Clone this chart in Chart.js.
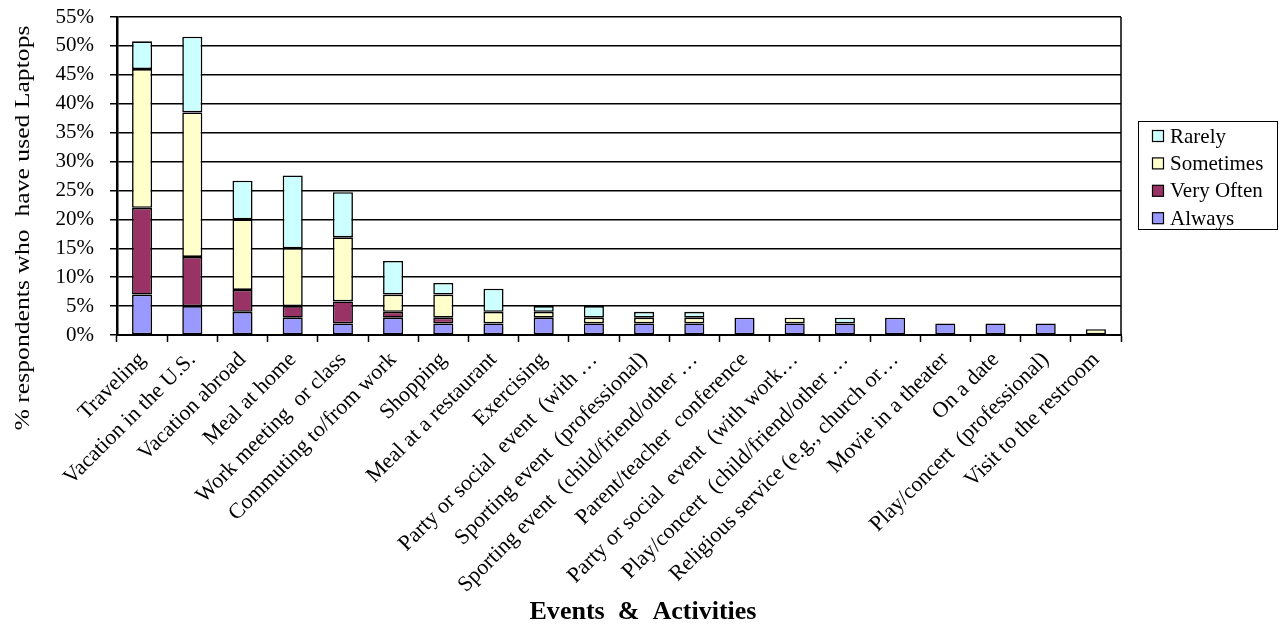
<!DOCTYPE html>
<html>
<head>
<meta charset="utf-8">
<script src="https://cdn.jsdelivr.net/npm/chart.js@4.4.0/dist/chart.umd.min.js"></script>
<style>
  html, body { margin: 0; padding: 0; background: #fff; }
  #wrap { width: 1283px; height: 626px; position: relative; }
</style>
</head>
<body>
<div id="wrap"><canvas id="c" width="1283" height="626"></canvas></div>
<script>
const categories = [
  "Traveling",
  "Vacation in the U.S.",
  "Vacation abroad",
  "Meal at home",
  "Work meeting  or class",
  "Commuting to/from work",
  "Shopping",
  "Meal at a restaurant",
  "Exercising",
  "Party or social  event  (with \u2026",
  "Sporting event  (professional)",
  "Sporting event  (child/friend/other \u2026",
  "Parent/teacher  conference",
  "Party or social  event  (with work\u2026",
  "Play/concert  (child/friend/other \u2026",
  "Religious service (e.g., church or\u2026",
  "Movie in a theater",
  "On a date",
  "Play/concert  (professional)",
  "Visit to the restroom"
];
const always    = [7, 5, 4, 3, 2, 3, 2, 2, 3, 2, 2, 2, 3, 2, 2, 3, 2, 2, 2, 0];
const veryOften = [15, 8.5, 3.8, 2, 3.8, 1, 1, 0, 0, 0, 0, 0, 0, 0, 0, 0, 0, 0, 0, 0];
const sometimes = [24, 25, 12.2, 10, 11.1, 3, 4, 2, 1, 1, 1, 1, 0, 1, 0, 0, 0, 0, 0, 1];
const rarely    = [4.8, 13.1, 6.7, 12.6, 7.8, 5.8, 2, 4, 1, 2, 1, 1, 0, 0, 1, 0, 0, 0, 0, 0];
const yTicks = [0, 5, 10, 15, 20, 25, 30, 35, 40, 45, 50, 55];
const seriesNames = ["Always", "Very Often", "Sometimes", "Rarely"];
const seriesColors = ["#9999FF", "#993366", "#FFFFCC", "#CCFFFF"];
const yTitle = "% respondents who  have used Laptops";
const xTitle = "Events  &  Activities";

const SERIF = "'Liberation Serif', 'Times New Roman', serif";

const decorPlugin = {
  id: 'decor',
  afterDraw(chart) {
    const ctx = chart.ctx;
    const ca = chart.chartArea;
    ctx.save();
    // right frame
    ctx.strokeStyle = '#000';
    ctx.lineWidth = 1.5;
    ctx.beginPath();
    ctx.moveTo(ca.right, ca.top);
    ctx.lineTo(ca.right, ca.bottom);
    ctx.stroke();

    // y title (stretched)
    ctx.fillStyle = '#000';
    ctx.save();
    ctx.translate(23, 228);
    ctx.rotate(-Math.PI / 2);
    ctx.font = '22px ' + SERIF;
    let w = ctx.measureText(yTitle).width;
    ctx.scale(405 / w, 1);
    ctx.textAlign = 'center';
    ctx.textBaseline = 'middle';
    ctx.fillText(yTitle, 0, 0);
    ctx.restore();

    // x title
    ctx.save();
    ctx.translate(643, 613);
    ctx.font = 'bold 25px ' + SERIF;
    w = ctx.measureText(xTitle).width;
    ctx.scale(227 / w, 1);
    ctx.textAlign = 'center';
    ctx.textBaseline = 'middle';
    ctx.fillText(xTitle, 0, 0);
    ctx.restore();

    // legend
    const lx = 1138.5, ly = 121.5, lw = 139, lh = 108;
    ctx.lineWidth = 1;
    ctx.strokeStyle = '#000';
    ctx.strokeRect(lx, ly, lw, lh);
    ctx.font = '21px ' + SERIF;
    ctx.textAlign = 'left';
    ctx.textBaseline = 'middle';
    const order = [3, 2, 1, 0];
    order.forEach((si, k) => {
      const cy = 136 + k * 27.4;
      ctx.fillStyle = seriesColors[si];
      ctx.fillRect(1152.5, cy - 5.5, 11, 11);
      ctx.strokeStyle = '#000';
      ctx.lineWidth = 1.2;
      ctx.strokeRect(1152.5, cy - 5.5, 11, 11);
      ctx.fillStyle = '#000';
      ctx.fillText(seriesNames[si], 1170, cy + 1);
    });
    ctx.restore();
  }
};

const dataArrays = [always, veryOften, sometimes, rarely];

new Chart(document.getElementById('c'), {
  type: 'bar',
  data: {
    labels: categories,
    datasets: dataArrays.map((arr, i) => ({
      label: seriesNames[i],
      data: arr,
      backgroundColor: seriesColors[i],
      borderColor: '#000',
      borderWidth: 1.6,
      borderSkipped: false,
      categoryPercentage: 1.0,
      barPercentage: 0.4
    }))
  },
  options: {
    responsive: false,
    animation: false,
    devicePixelRatio: 1,
    layout: { padding: { left: 0, right: 162, top: 17, bottom: 0 } },
    plugins: {
      legend: { display: false },
      tooltip: { enabled: false },
      title: { display: false }
    },
    scales: {
      x: {
        stacked: true,
        offset: true,
        grid: {
          display: true,
          drawOnChartArea: false,
          drawTicks: true,
          tickLength: 7,
          tickColor: '#000',
          tickWidth: 1.5,
          offset: true
        },
        border: { display: true, color: '#000', width: 2 },
        ticks: {
          autoSkip: false,
          maxRotation: 45,
          minRotation: 45,
          color: '#000',
          padding: 5,
          font: { family: SERIF, size: 22 }
        },
        afterFit(scale) {
          scale.height = 291;
          scale.paddingLeft = 0;
          scale.paddingRight = 0;
        }
      },
      y: {
        stacked: true,
        min: 0,
        max: 55,
        afterBuildTicks(scale) {
          scale.ticks = yTicks.map(v => ({ value: v }));
        },
        grid: {
          color: '#000',
          lineWidth: 1.5,
          drawTicks: true,
          tickLength: 7,
          tickColor: '#000'
        },
        border: { display: true, color: '#000', width: 2.5 },
        ticks: {
          color: '#000',
          padding: 16,
          font: { family: SERIF, size: 21 },
          callback: v => v + '%'
        },
        afterFit(scale) {
          scale.width = 117;
          scale.paddingTop = 0;
          scale.paddingBottom = 0;
        }
      }
    }
  },
  plugins: [decorPlugin]
});
</script>
</body>
</html>
